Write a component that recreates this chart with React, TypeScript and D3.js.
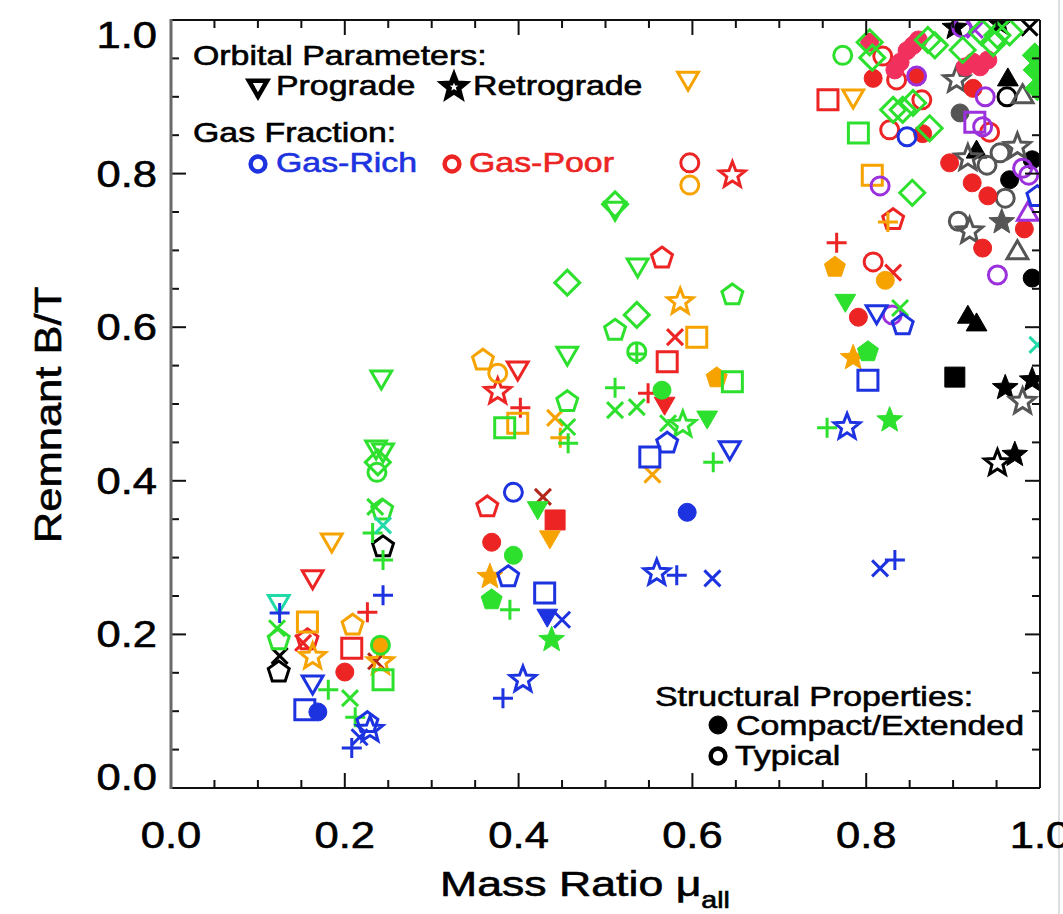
import React from "react";
import * as d3 from "d3";

// [mass ratio, remnant B/T, marker shape, filled (1) / open (0)]
type Pt = [number, number, string, number];

const muTickValues = [0, 0.2, 0.4, 0.6, 0.8, 1.0];
const muTickLabels = ["0.0", "0.2", "0.4", "0.6", "0.8", "1.0"];
const btTickValues = [0, 0.2, 0.4, 0.6, 0.8, 1.0];
const btTickLabels = ["0.0", "0.2", "0.4", "0.6", "0.8", "1.0"];

const blackPts: Pt[] = [
  [0.125, 0.172, "x", 0], [0.124, 0.151, "p", 0], [0.244, 0.314, "p", 0],
  [0.917, 0.613, "^", 1], [0.927, 0.603, "^", 1], [0.902, 0.535, "s", 1],
  [0.960, 0.521, "*", 1], [0.991, 0.531, "*", 1], [0.951, 0.423, "*", 0],
  [0.971, 0.434, "*", 1], [0.991, 0.664, "o", 1], [0.927, 0.828, "^", 1],
  [0.963, 0.922, "^", 1], [0.965, 0.792, "o", 1], [0.991, 0.818, "o", 1],
  [0.962, 0.900, "o", 0], [0.902, 0.990, "*", 1], [0.954, 0.995, "*", 1],
  [0.988, 0.990, "x", 0],
];

const grayPts: Pt[] = [
  [0.904, 0.922, "*", 0], [0.980, 0.900, "^", 0], [0.908, 0.879, "o", 1],
  [0.917, 0.820, "*", 0], [0.954, 0.827, "o", 0], [0.974, 0.835, "*", 0],
  [0.939, 0.811, "o", 0], [0.960, 0.768, "o", 0], [0.906, 0.738, "o", 0],
  [0.919, 0.725, "*", 0], [0.956, 0.737, "*", 1], [0.974, 0.697, "^", 0],
  [0.980, 0.503, "*", 0],
];

const redPts: Pt[] = [
  [0.163, 0.275, "v", 0], [0.157, 0.193, "p", 0], [0.152, 0.189, "x", 0],
  [0.200, 0.151, "o", 1], [0.208, 0.182, "s", 0], [0.226, 0.229, "+", 0],
  [0.399, 0.547, "v", 0], [0.376, 0.516, "*", 0], [0.402, 0.495, "+", 0],
  [0.364, 0.366, "p", 0], [0.442, 0.349, "s", 1], [0.369, 0.320, "o", 1],
  [0.597, 0.814, "o", 0], [0.646, 0.798, "*", 0], [0.565, 0.690, "p", 0],
  [0.580, 0.587, "x", 0], [0.571, 0.555, "s", 0], [0.549, 0.514, "+", 0],
  [0.568, 0.501, "v", 1], [0.766, 0.710, "+", 0], [0.808, 0.685, "o", 0],
  [0.831, 0.671, "x", 0], [0.831, 0.740, "p", 0], [0.791, 0.613, "o", 1],
  [0.756, 0.896, "s", 0], [0.808, 0.924, "o", 1], [0.819, 0.953, "o", 0],
  [0.835, 0.922, "o", 0], [0.864, 0.896, "o", 0], [0.827, 0.857, "o", 0],
  [0.865, 0.852, "o", 1], [0.896, 0.814, "o", 1], [0.922, 0.788, "o", 1],
  [0.940, 0.771, "o", 1], [0.982, 0.728, "o", 1], [0.934, 0.703, "o", 1],
  [0.942, 0.854, "o", 0], [0.923, 0.911, "o", 1], [0.858, 0.926, "o", 1],
];

const darkRedPts: Pt[] = [
  [0.236, 0.165, "x", 0], [0.428, 0.379, "x", 0],
];

const crimsonPts: Pt[] = [
  [0.847, 0.960, "o", 1], [0.854, 0.967, "o", 1], [0.839, 0.945, "o", 1],
  [0.833, 0.935, "o", 1], [0.860, 0.974, "o", 1], [0.923, 0.945, "o", 1],
  [0.931, 0.939, "o", 1], [0.914, 0.939, "o", 1], [0.940, 0.948, "o", 1],
  [0.804, 0.971, "o", 1],
];

const orangePts: Pt[] = [
  [0.157, 0.216, "s", 0], [0.163, 0.171, "*", 0], [0.185, 0.323, "v", 0],
  [0.209, 0.212, "p", 0], [0.241, 0.186, "o", 1], [0.241, 0.164, "*", 0],
  [0.359, 0.557, "p", 0], [0.376, 0.540, "o", 0], [0.399, 0.475, "s", 0],
  [0.442, 0.482, "x", 0], [0.448, 0.456, "+", 0], [0.367, 0.275, "*", 1],
  [0.436, 0.327, "v", 1], [0.595, 0.924, "v", 0], [0.597, 0.785, "o", 0],
  [0.586, 0.633, "*", 0], [0.605, 0.587, "s", 0], [0.628, 0.534, "p", 1],
  [0.554, 0.408, "x", 0], [0.785, 0.901, "v", 0], [0.807, 0.798, "s", 0],
  [0.825, 0.737, "+", 0], [0.764, 0.678, "p", 1], [0.822, 0.661, "o", 1],
  [0.785, 0.560, "*", 1],
];

const purplePts: Pt[] = [
  [0.816, 0.784, "o", 0], [0.830, 0.616, "o", 0], [0.858, 0.927, "o", 0],
  [0.937, 0.900, "o", 0], [0.925, 0.867, "s", 0], [0.934, 0.861, "o", 0],
  [0.980, 0.807, "o", 0], [0.987, 0.798, "o", 0], [0.986, 0.747, "^", 0],
  [0.951, 0.668, "o", 0], [0.910, 0.990, "o", 0], [0.925, 0.987, "x", 0],
];

const greenPts: Pt[] = [
  [0.122, 0.208, "x", 0], [0.124, 0.193, "p", 0], [0.181, 0.128, "+", 0],
  [0.206, 0.117, "x", 0], [0.212, 0.092, "+", 0], [0.241, 0.186, "o", 0],
  [0.244, 0.141, "s", 0], [0.242, 0.535, "v", 0], [0.236, 0.444, "v", 0],
  [0.244, 0.440, "v", 0], [0.238, 0.424, "d", 0], [0.237, 0.411, "o", 0],
  [0.235, 0.366, "x", 0], [0.243, 0.362, "p", 0], [0.232, 0.332, "+", 0],
  [0.244, 0.297, "+", 0], [0.456, 0.566, "v", 0], [0.456, 0.658, "d", 0],
  [0.456, 0.503, "p", 0], [0.384, 0.469, "s", 0], [0.456, 0.470, "x", 0],
  [0.457, 0.449, "+", 0], [0.422, 0.365, "v", 1], [0.394, 0.303, "o", 1],
  [0.369, 0.245, "p", 1], [0.390, 0.232, "+", 0], [0.438, 0.193, "*", 1],
  [0.511, 0.755, "v", 0], [0.511, 0.760, "d", 0], [0.537, 0.681, "v", 0],
  [0.646, 0.642, "p", 0], [0.536, 0.616, "d", 0], [0.511, 0.596, "p", 0],
  [0.536, 0.568, "o", 0], [0.536, 0.565, "+", 0], [0.646, 0.529, "s", 0],
  [0.511, 0.521, "+", 0], [0.565, 0.518, "o", 1], [0.511, 0.492, "x", 0],
  [0.536, 0.496, "x", 0], [0.572, 0.475, "x", 0], [0.589, 0.473, "*", 0],
  [0.617, 0.483, "v", 1], [0.624, 0.424, "+", 0], [0.776, 0.635, "v", 1],
  [0.839, 0.625, "x", 0], [0.802, 0.568, "p", 1], [0.755, 0.469, "+", 0],
  [0.827, 0.479, "*", 1], [0.853, 0.775, "d", 0], [0.773, 0.954, "o", 0],
  [0.804, 0.971, "d", 0], [0.807, 0.951, "d", 0], [0.871, 0.974, "d", 0],
  [0.879, 0.967, "d", 0], [0.831, 0.883, "d", 0], [0.842, 0.883, "d", 0],
  [0.854, 0.892, "d", 0], [0.791, 0.853, "s", 0], [0.873, 0.859, "d", 0],
  [0.911, 0.961, "d", 0], [0.933, 0.984, "d", 0], [0.951, 0.980, "d", 0],
  [0.965, 0.984, "d", 0], [0.946, 0.970, "d", 0], [0.995, 0.935, "d", 1],
  [0.997, 0.911, "d", 1], [0.994, 0.954, "d", 1],
];

const tealPts: Pt[] = [
  [0.124, 0.243, "v", 0], [0.244, 0.342, "x", 0], [0.997, 0.577, "x", 0],
];

const bluePts: Pt[] = [
  [0.125, 0.228, "+", 0], [0.163, 0.138, "v", 0], [0.154, 0.102, "s", 0],
  [0.169, 0.099, "o", 1], [0.217, 0.066, "x", 0], [0.226, 0.085, "p", 0],
  [0.229, 0.076, "*", 0], [0.208, 0.052, "+", 0], [0.244, 0.251, "+", 0],
  [0.394, 0.385, "o", 0], [0.388, 0.275, "p", 0], [0.430, 0.254, "s", 0],
  [0.433, 0.225, "v", 1], [0.450, 0.219, "x", 0], [0.405, 0.141, "*", 0],
  [0.382, 0.117, "+", 0], [0.571, 0.449, "p", 0], [0.551, 0.431, "s", 0],
  [0.643, 0.443, "v", 0], [0.594, 0.359, "o", 1], [0.559, 0.280, "*", 0],
  [0.582, 0.277, "+", 0], [0.623, 0.273, "x", 0], [0.812, 0.620, "v", 0],
  [0.842, 0.603, "p", 0], [0.802, 0.531, "s", 0], [0.778, 0.470, "*", 0],
  [0.816, 0.286, "x", 0], [0.833, 0.297, "+", 0], [0.847, 0.848, "o", 0],
  [0.997, 0.770, "p", 0],
];

// drawing order, back to front
const seriesList: { color: string; pts: Pt[] }[] = [
  { color: "#000000", pts: blackPts },
  { color: "#555555", pts: grayPts },
  { color: "#ec2424", pts: redPts },
  { color: "#b3261a", pts: darkRedPts },
  { color: "#f2305e", pts: crimsonPts },
  { color: "#f6a300", pts: orangePts },
  { color: "#9b31dc", pts: purplePts },
  { color: "#2ee02e", pts: greenPts },
  { color: "#22d9a8", pts: tealPts },
  { color: "#1d33e0", pts: bluePts },
];

const FONT = "'Liberation Sans', Arial, Helvetica, sans-serif";
const SX = 1.21;

function polygon(n: number, r: number, rot: number, inner?: number): string {
  const pts: [number, number][] = [];
  const count = inner ? n * 2 : n;
  for (let i = 0; i < count; i++) {
    const rr = inner && i % 2 === 1 ? inner : r;
    const a = rot + (i * 2 * Math.PI) / count;
    pts.push([rr * Math.sin(a), -rr * Math.cos(a)]);
  }
  return "M" + pts.map((p) => p[0].toFixed(2) + "," + p[1].toFixed(2)).join("L") + "Z";
}

function markerPath(shape: string, k = 1): string {
  switch (shape) {
    case "o": {
      const r = 9 * k;
      return `M${r},0A${r},${r} 0 1 1 ${-r},0A${r},${r} 0 1 1 ${r},0Z`;
    }
    case "s": {
      const h = 10 * k;
      return `M${-h},${-h}H${h}V${h}H${-h}Z`;
    }
    case "v":
      return polygon(3, 12 * k, Math.PI);
    case "^":
      return polygon(3, 12 * k, 0);
    case "*":
      return polygon(5, 13.5 * k, 0, 5.8 * k);
    case "p":
      return polygon(5, 11 * k, 0);
    case "d":
      return polygon(4, 12.5 * k, 0);
    case "+": {
      const h = 10 * k;
      return `M${-h},0H${h}M0,${-h}V${h}`;
    }
    case "x": {
      const h = 8 * k;
      return `M${-h},${-h}L${h},${h}M${-h},${h}L${h},${-h}`;
    }
  }
  return "";
}

function Marker({ x, y, shape, filled, color, sw = 3, k = 1 }: any) {
  const isLine = shape === "+" || shape === "x";
  return (
    <path
      d={markerPath(shape, k)}
      transform={`translate(${x},${y})`}
      fill={filled && !isLine ? color : "none"}
      stroke={color}
      strokeWidth={filled && !isLine ? 1 : sw}
      strokeLinejoin="miter"
    />
  );
}

function SText({ x, y, size, children, anchor = "start", fill = "#000", rotate = 0 }: any) {
  const rot = rotate ? ` rotate(${rotate})` : "";
  return (
    <text
      transform={`translate(${x},${y})${rot} scale(${SX},1)`}
      fontFamily={FONT}
      fontSize={size}
      textAnchor={anchor}
      fill={fill}
      stroke={fill}
      strokeWidth={0.6}
    >
      {children}
    </text>
  );
}

export default function App() {
  const W = 1063;
  const H = 914;
  const left = 171;
  const right = 1040;
  const top = 20;
  const bottom = 788;

  const xScale = d3.scaleLinear().domain([0, 1]).range([left, right]);
  const yScale = d3.scaleLinear().domain([0, 1]).range([bottom, top]);

  const minor = d3.range(0, 1.0001, 0.05).filter((v) => Math.abs(v * 5 - Math.round(v * 5)) > 1e-6);
  const MAJ = 15;
  const MIN = 8;

  const ticks: JSX.Element[] = [];
  const addTicks = (vals: number[], len: number, key: string) => {
    vals.forEach((v, i) => {
      const xv = xScale(v);
      const yv = yScale(v);
      ticks.push(<line key={`${key}b${i}`} x1={xv} x2={xv} y1={bottom} y2={bottom - len} />);
      ticks.push(<line key={`${key}t${i}`} x1={xv} x2={xv} y1={top} y2={top + len} />);
      ticks.push(<line key={`${key}l${i}`} x1={left} x2={left + len} y1={yv} y2={yv} />);
      ticks.push(<line key={`${key}r${i}`} x1={right} x2={right - len} y1={yv} y2={yv} />);
    });
  };
  addTicks(muTickValues, MAJ, "M");
  addTicks(minor, MIN, "m");

  // end labels sit slightly inside the frame
  const yLabelShift = (v: number) => (v >= 1 ? 28 : v <= 0 ? 2 : 13);

  return (
    <svg
      width={W}
      height={H}
      style={{ position: "absolute", left: 0, top: 0, background: "#fff" }}
    >
      <defs>
        <clipPath id="plotArea">
          <rect x={left} y={top} width={right - left} height={bottom - top} />
        </clipPath>
      </defs>
      <rect x={0} y={0} width={W} height={H} fill="#fff" />
      <line x1={1059} x2={1059} y1={0} y2={H} stroke="#d4d4d4" strokeWidth={1.5} />

      {/* data */}
      <g clipPath="url(#plotArea)">
        {seriesList.map((s, si) =>
          s.pts.map((p, i) => (
            <Marker
              key={`${si}-${i}`}
              x={xScale(p[0])}
              y={yScale(p[1])}
              shape={p[2]}
              filled={p[3] === 1}
              color={s.color}
            />
          ))
        )}
      </g>

      {/* frame and ticks */}
      <g stroke="#111" strokeWidth={2}>
        {ticks}
        <line x1={left} x2={right} y1={bottom} y2={bottom} />
        <line x1={left} x2={right} y1={top} y2={top} />
        <line x1={right} x2={right} y1={top} y2={bottom} />
      </g>
      <line x1={left} x2={left} y1={top - 1} y2={bottom + 1} stroke="#6a6a6a" strokeWidth={3} />

      {/* tick labels */}
      {muTickValues.map((v, i) => (
        <SText key={`xl${i}`} x={xScale(v)} y={848} size={36} anchor="middle">
          {muTickLabels[i]}
        </SText>
      ))}
      {btTickValues.map((v, i) => (
        <SText key={`yl${i}`} x={157} y={yScale(v) + yLabelShift(v)} size={36} anchor="end">
          {btTickLabels[i]}
        </SText>
      ))}

      {/* axis titles */}
      <SText x={61} y={415} size={36} anchor="middle" rotate={-90}>
        Remnant B/T
      </SText>
      <text
        transform={`translate(440,896) scale(1.24,1)`}
        fontFamily={FONT}
        fontSize={36}
        stroke="#000"
        strokeWidth={0.6}
      >
        Mass Ratio μ
        <tspan fontSize={23} dy={12}>
          all
        </tspan>
      </text>

      {/* legend: orbital parameters and gas fraction */}
      <SText x={193} y={65} size={28}>Orbital Parameters:</SText>
      <Marker x={258} y={86} shape="v" color="#000" sw={4.5} k={0.88} />
      <SText x={276} y={95} size={28}>Prograde</SText>
      <Marker x={454} y={87} shape="*" color="#000" sw={5} k={0.85} />
      <SText x={473} y={95} size={28}>Retrograde</SText>
      <SText x={193} y={142} size={28}>Gas Fraction:</SText>
      <Marker x={258} y={164} shape="o" color="#1d33e0" sw={4.5} k={0.82} />
      <SText x={276} y={172} size={28} fill="#1d33e0">Gas-Rich</SText>
      <Marker x={452} y={164} shape="o" color="#ec2424" sw={4.5} k={0.82} />
      <SText x={469} y={172} size={28} fill="#ec2424">Gas-Poor</SText>

      {/* legend: structural properties */}
      <SText x={655} y={706} size={28}>Structural Properties:</SText>
      <Marker x={718} y={725} shape="o" filled color="#000" k={1.0} />
      <SText x={736} y={735} size={28}>Compact/Extended</SText>
      <Marker x={718} y={756} shape="o" color="#000" sw={4.5} k={0.82} />
      <SText x={735} y={765} size={28}>Typical</SText>
    </svg>
  );
}
